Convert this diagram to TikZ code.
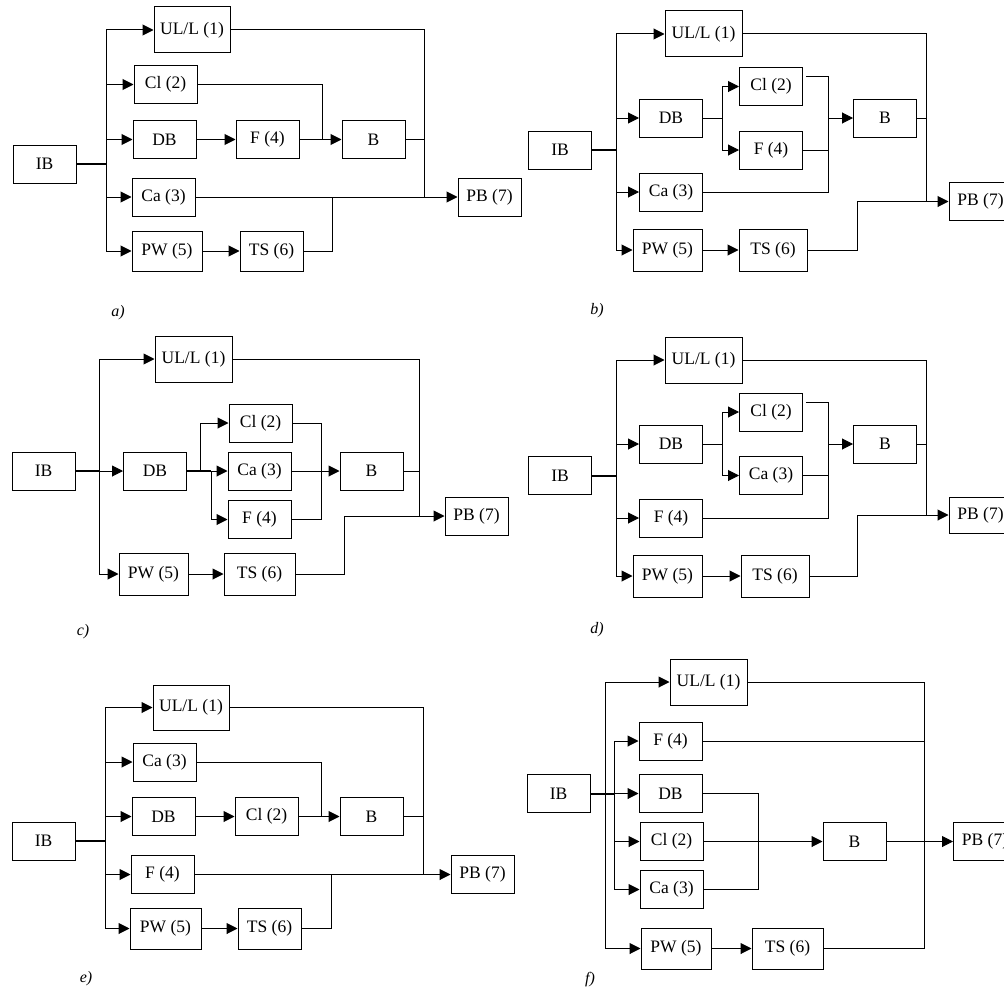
\documentclass[tikz,border=0pt]{standalone}
\usepackage{fontspec}
\setmainfont{Liberation Serif}
\usetikzlibrary{arrows.meta}

\begin{document}
\begin{tikzpicture}[x=1pt, y=-1pt, line width=1pt,
	stage/.style={draw, fill=white, inner sep=0pt, minimum width=63pt, minimum height=38pt, font=\fontsize{17.5}{20}\selectfont},
	wide/.style={stage, minimum width=77pt, minimum height=46pt},
	flow/.style={-{Triangle[length=11pt,width=11pt]}},
	feed/.style={line width=2pt},
	tag/.style={font=\fontsize{16}{18}\selectfont\itshape}]
	\useasboundingbox (0,0) rectangle (1004,990);
	\node[stage] (aIB) at (44.5,164) {IB};
	\node[wide, minimum width=76pt] (aUL) at (192,30) {UL/L (1)};
	\node[stage] (aCl) at (165.5,84.5) {Cl (2)};
	\node[stage] (aDB) at (164.5,139.5) {DB};
	\node[stage] (aF) at (267.5,139.5) {F (4)};
	\node[stage] (aB) at (373.5,139.5) {B};
	\node[stage] (aCa) at (163.5,197) {Ca (3)};
	\node[stage, minimum width=70pt, minimum height=40pt] (aPW) at (167,251) {PW (5)};
	\node[stage, minimum height=40pt] (aTS) at (271.5,251) {TS (6)};
	\node[stage] (aPB) at (489.5,197) {PB (7)};
	\coordinate (aBus) at (106,164);
	\coordinate (aJ) at (322,139.5);
	\coordinate (aT) at (332,197);
	\coordinate (aR) at (424,197);
	\draw[feed] (aIB) -- (aBus);
	\draw (aUL -| aBus) -- (aPW -| aBus);
	\draw[flow] (aUL -| aBus) -- (aUL);
	\draw[flow] (aCl -| aBus) -- (aCl);
	\draw[flow] (aDB -| aBus) -- (aDB);
	\draw[flow] (aCa -| aBus) -- (aCa);
	\draw[flow] (aPW -| aBus) -- (aPW);
	\draw[flow] (aDB) -- (aF);
	\draw[flow] (aPW) -- (aTS);
	\draw (aCl) -| (aJ);
	\draw[flow] (aF) -- (aB);
	\draw (aUL) -| (aR);
	\draw (aB) -| (aR);
	\draw (aTS) -| (aT);
	\draw[flow] (aCa) -- (aPB);
	\node[tag] (aLab) at (118,313) {a)};

	\node[stage] (bIB) at (560,150) {IB};
	\node[wide] (bUL) at (703.5,34) {UL/L (1)};
	\node[stage] (bDB) at (671,118) {DB};
	\node[stage] (bCl) at (771,86.5) {Cl (2)};
	\node[stage] (bF) at (771,150) {F (4)};
	\node[stage] (bCa) at (671,192) {Ca (3)};
	\node[stage] (bB) at (885,118) {B};
	\node[stage, minimum width=69pt, minimum height=42pt] (bPW) at (667.5,250) {PW (5)};
	\node[stage, minimum width=68pt, minimum height=42pt] (bTS) at (773,250) {TS (6)};
	\node[stage] (bPB) at (980.5,201.5) {PB (7)};
	\coordinate (bBus) at (616,150);
	\coordinate (bS) at (722,118);
	\coordinate (bJ) at (828,118);
	\coordinate (bT) at (857,201.5);
	\coordinate (bR) at (926,201.5);
	\draw[feed] (bIB) -- (bBus);
	\draw (bUL -| bBus) -- (bPW -| bBus);
	\draw[flow] (bUL -| bBus) -- (bUL);
	\draw[flow] (bDB -| bBus) -- (bDB);
	\draw[flow] (bCa -| bBus) -- (bCa);
	\draw[flow] (bPW -| bBus) -- (bPW);
	\draw[flow] (bPW) -- (bTS);
	\draw (bDB) -- (bS);
	\draw (bCl -| bS) -- (bF -| bS);
	\draw[flow] (bCl -| bS) -- (bCl);
	\draw[flow] (bF -| bS) -- (bF);
	\draw ([xshift=3pt, yshift=10pt]bCl.east) -| (bJ);
	\draw (bF) -| (bJ);
	\draw (bCa) -| (bJ);
	\draw[flow] (bJ) -- (bB);
	\draw (bUL) -| (bR);
	\draw (bB) -| (bR);
	\draw (bTS) -| (bT);
	\draw[flow] (bT) -- (bPB);
	\node[tag] (bLab) at (597,311) {b)};

	\node[stage] (cIB) at (43.5,471) {IB};
	\node[wide] (cUL) at (193.5,359) {UL/L (1)};
	\node[stage] (cDB) at (155,471) {DB};
	\node[stage] (cCl) at (260.5,423) {Cl (2)};
	\node[stage] (cCa) at (259.5,471) {Ca (3)};
	\node[stage] (cF) at (259.5,519.5) {F (4)};
	\node[stage] (cB) at (371.5,471) {B};
	\node[stage, minimum width=69pt, minimum height=42pt] (cPW) at (153.5,574) {PW (5)};
	\node[stage, minimum width=71pt, minimum height=42pt] (cTS) at (259.5,574) {TS (6)};
	\node[stage] (cPB) at (476.5,516) {PB (7)};
	\coordinate (cBus) at (99,471);
	\coordinate (cS1) at (200,471);
	\coordinate (cS2) at (211,471);
	\coordinate (cJ) at (321,471);
	\coordinate (cT) at (344,516);
	\coordinate (cR) at (419,516);
	\draw[feed] (cIB) -- (cBus);
	\draw (cUL -| cBus) -- (cPW -| cBus);
	\draw[flow] (cUL -| cBus) -- (cUL);
	\draw[flow] (cBus) -- (cDB);
	\draw[flow] (cPW -| cBus) -- (cPW);
	\draw[flow] (cPW) -- (cTS);
	\draw[feed] (cDB) -- (cS2);
	\draw[flow] (cS2) -- (cCa);
	\draw[flow] (cS1) |- (cCl);
	\draw[flow] (cS2) |- (cF);
	\draw (cCl) -| (cJ);
	\draw (cF) -| (cJ);
	\draw[flow] (cCa) -- (cB);
	\draw (cUL) -| (cR);
	\draw (cB) -| (cR);
	\draw (cTS) -| (cT);
	\draw[flow] (cT) -- (cPB);
	\node[tag] (cLab) at (83,632) {c)};

	\node[stage] (dIB) at (560,475.5) {IB};
	\node[wide] (dUL) at (703.5,360) {UL/L (1)};
	\node[stage] (dDB) at (671,444) {DB};
	\node[stage] (dCl) at (771,412) {Cl (2)};
	\node[stage] (dCa) at (771,475.5) {Ca (3)};
	\node[stage] (dF) at (671,518) {F (4)};
	\node[stage] (dB) at (885,444) {B};
	\node[stage, minimum width=69pt, minimum height=42pt] (dPW) at (667.5,576) {PW (5)};
	\node[stage, minimum width=68pt, minimum height=42pt] (dTS) at (775,576) {TS (6)};
	\node[stage, minimum height=36pt] (dPB) at (980.5,515) {PB (7)};
	\coordinate (dBus) at (616,475.5);
	\coordinate (dS) at (722,444);
	\coordinate (dJ) at (828,444);
	\coordinate (dT) at (857,515);
	\coordinate (dR) at (926,515);
	\draw[feed] (dIB) -- (dBus);
	\draw (dUL -| dBus) -- (dPW -| dBus);
	\draw[flow] (dUL -| dBus) -- (dUL);
	\draw[flow] (dDB -| dBus) -- (dDB);
	\draw[flow] (dF -| dBus) -- (dF);
	\draw[flow] (dPW -| dBus) -- (dPW);
	\draw[flow] (dPW) -- (dTS);
	\draw (dDB) -- (dS);
	\draw (dCl -| dS) -- (dCa -| dS);
	\draw[flow] (dCl -| dS) -- (dCl);
	\draw[flow] (dCa -| dS) -- (dCa);
	\draw ([xshift=3pt, yshift=10pt]dCl.east) -| (dJ);
	\draw (dCa) -| (dJ);
	\draw (dF) -| (dJ);
	\draw[flow] (dJ) -- (dB);
	\draw (dUL) -| (dR);
	\draw (dB) -| (dR);
	\draw (dTS) -| (dT);
	\draw[flow] (dT) -- (dPB);
	\node[tag] (dLab) at (597,630) {d)};

	\node[stage] (eIB) at (43.5,841) {IB};
	\node[wide, minimum width=76pt, minimum height=45pt] (eUL) at (191,707.5) {UL/L (1)};
	\node[stage] (eCa) at (164.5,762) {Ca (3)};
	\node[stage] (eDB) at (163.5,816.5) {DB};
	\node[stage] (eCl) at (266.5,816.5) {Cl (2)};
	\node[stage] (eB) at (371.5,816.5) {B};
	\node[stage] (eF) at (162.5,874.5) {F (4)};
	\node[stage, minimum width=71pt, minimum height=41pt] (ePW) at (165.5,928.5) {PW (5)};
	\node[stage, minimum height=41pt] (eTS) at (269.5,928.5) {TS (6)};
	\node[stage] (ePB) at (482.5,874.5) {PB (7)};
	\coordinate (eBus) at (105,841);
	\coordinate (eJ) at (321,816.5);
	\coordinate (eT) at (331,874.5);
	\coordinate (eR) at (423,874.5);
	\draw[feed] (eIB) -- (eBus);
	\draw (eUL -| eBus) -- (ePW -| eBus);
	\draw[flow] (eUL -| eBus) -- (eUL);
	\draw[flow] (eCa -| eBus) -- (eCa);
	\draw[flow] (eDB -| eBus) -- (eDB);
	\draw[flow] (eF -| eBus) -- (eF);
	\draw[flow] (ePW -| eBus) -- (ePW);
	\draw[flow] (eDB) -- (eCl);
	\draw[flow] (ePW) -- (eTS);
	\draw (eCa) -| (eJ);
	\draw[flow] (eCl) -- (eB);
	\draw (eUL) -| (eR);
	\draw (eB) -| (eR);
	\draw (eTS) -| (eT);
	\draw[flow] (eF) -- (ePB);
	\node[tag] (eLab) at (86,979) {e)};

	\node[stage] (fIB) at (558.5,793.5) {IB};
	\node[wide] (fUL) at (708.5,682) {UL/L (1)};
	\node[stage] (fF) at (670.5,741) {F (4)};
	\node[stage] (fDB) at (670.5,793.5) {DB};
	\node[stage] (fCl) at (671.5,841.5) {Cl (2)};
	\node[stage] (fCa) at (671.5,889.5) {Ca (3)};
	\node[stage] (fB) at (854.5,841.5) {B};
	\node[stage, minimum width=70pt, minimum height=41pt] (fPW) at (676,948.5) {PW (5)};
	\node[stage, minimum width=71pt, minimum height=41pt] (fTS) at (787.5,948.5) {TS (6)};
	\node[stage] (fPB) at (985,841.5) {PB (7)};
	\coordinate (fBus) at (605,793.5);
	\coordinate (fIn) at (614,793.5);
	\coordinate (fJ) at (758,841.5);
	\coordinate (fR) at (924,841.5);
	\draw[feed] (fIB) -- (fIn);
	\draw (fUL -| fBus) -- (fPW -| fBus);
	\draw (fF -| fIn) -- (fCa -| fIn);
	\draw[flow] (fUL -| fBus) -- (fUL);
	\draw[flow] (fF -| fIn) -- (fF);
	\draw[flow] (fIn) -- (fDB);
	\draw[flow] (fCl -| fIn) -- (fCl);
	\draw[flow] (fCa -| fIn) -- (fCa);
	\draw[flow] (fPW -| fBus) -- (fPW);
	\draw[flow] (fPW) -- (fTS);
	\draw (fDB) -| (fJ);
	\draw (fCa) -| (fJ);
	\draw[flow] (fCl) -- (fB);
	\draw (fUL) -| (fR);
	\draw (fF) -| (fR);
	\draw (fTS) -| (fR);
	\draw[flow] (fB) -- (fPB);
	\node[tag] (fLab) at (590,980) {f)};
\end{tikzpicture}
\end{document}
